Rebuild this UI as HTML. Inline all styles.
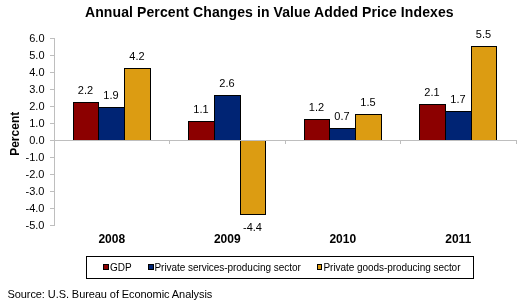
<!DOCTYPE html>
<html><head><meta charset="utf-8"><style>
html,body{margin:0;padding:0;background:#fff;width:529px;height:305px;overflow:hidden}
svg{display:block;will-change:transform}
text{font-family:"Liberation Sans", sans-serif}
</style></head><body>
<svg width="529" height="305" viewBox="0 0 529 305" font-family='"Liberation Sans", sans-serif' fill="#000"><rect x="0" y="0" width="529" height="305" fill="#fff"/>
<text x="85" y="17" font-weight="bold" font-size="14" letter-spacing="0.1">Annual Percent Changes in Value Added Price Indexes</text>
<rect x="73" y="102" width="26" height="38" fill="#000"/>
<rect x="74" y="103" width="24" height="37" fill="#8C0000"/>
<rect x="98" y="107" width="27" height="33" fill="#000"/>
<rect x="99" y="108" width="25" height="32" fill="#002474"/>
<rect x="124" y="68" width="27" height="72" fill="#000"/>
<rect x="125" y="69" width="25" height="71" fill="#DC9C12"/>
<rect x="188" y="121" width="27" height="19" fill="#000"/>
<rect x="189" y="122" width="25" height="18" fill="#8C0000"/>
<rect x="214" y="95" width="27" height="45" fill="#000"/>
<rect x="215" y="96" width="25" height="44" fill="#002474"/>
<rect x="240" y="140" width="26" height="75" fill="#000"/>
<rect x="241" y="140" width="24" height="74" fill="#DC9C12"/>
<rect x="304" y="119" width="26" height="21" fill="#000"/>
<rect x="305" y="120" width="24" height="20" fill="#8C0000"/>
<rect x="329" y="128" width="27" height="12" fill="#000"/>
<rect x="330" y="129" width="25" height="11" fill="#002474"/>
<rect x="355" y="114" width="27" height="26" fill="#000"/>
<rect x="356" y="115" width="25" height="25" fill="#DC9C12"/>
<rect x="419" y="104" width="27" height="36" fill="#000"/>
<rect x="420" y="105" width="25" height="35" fill="#8C0000"/>
<rect x="445" y="111" width="27" height="29" fill="#000"/>
<rect x="446" y="112" width="25" height="28" fill="#002474"/>
<rect x="471" y="46" width="26" height="94" fill="#000"/>
<rect x="472" y="47" width="24" height="93" fill="#DC9C12"/>
<text x="85.50" y="94.10" text-anchor="middle" font-size="11">2.2</text>
<text x="111.00" y="99.20" text-anchor="middle" font-size="11">1.9</text>
<text x="137.00" y="60.10" text-anchor="middle" font-size="11">4.2</text>
<text x="201.00" y="112.80" text-anchor="middle" font-size="11">1.1</text>
<text x="227.00" y="87.30" text-anchor="middle" font-size="11">2.6</text>
<text x="252.50" y="230.80" text-anchor="middle" font-size="11">-4.4</text>
<text x="316.50" y="111.10" text-anchor="middle" font-size="11">1.2</text>
<text x="342.00" y="119.60" text-anchor="middle" font-size="11">0.7</text>
<text x="368.00" y="106.00" text-anchor="middle" font-size="11">1.5</text>
<text x="432.00" y="95.80" text-anchor="middle" font-size="11">2.1</text>
<text x="458.00" y="102.60" text-anchor="middle" font-size="11">1.7</text>
<text x="483.50" y="38.00" text-anchor="middle" font-size="11">5.5</text>
<rect x="54" y="38" width="1" height="188" fill="#BEBEBE"/>
<rect x="50" y="38" width="4" height="1" fill="#BEBEBE"/>
<text x="44.5" y="41.5" text-anchor="end" font-size="11">6.0</text>
<rect x="50" y="55" width="4" height="1" fill="#BEBEBE"/>
<text x="44.5" y="58.5" text-anchor="end" font-size="11">5.0</text>
<rect x="50" y="72" width="4" height="1" fill="#BEBEBE"/>
<text x="44.5" y="75.5" text-anchor="end" font-size="11">4.0</text>
<rect x="50" y="89" width="4" height="1" fill="#BEBEBE"/>
<text x="44.5" y="92.5" text-anchor="end" font-size="11">3.0</text>
<rect x="50" y="106" width="4" height="1" fill="#BEBEBE"/>
<text x="44.5" y="109.5" text-anchor="end" font-size="11">2.0</text>
<rect x="50" y="123" width="4" height="1" fill="#BEBEBE"/>
<text x="44.5" y="126.5" text-anchor="end" font-size="11">1.0</text>
<rect x="50" y="140" width="4" height="1" fill="#BEBEBE"/>
<text x="44.5" y="143.5" text-anchor="end" font-size="11">0.0</text>
<rect x="50" y="157" width="4" height="1" fill="#BEBEBE"/>
<text x="44.5" y="160.5" text-anchor="end" font-size="11">-1.0</text>
<rect x="50" y="174" width="4" height="1" fill="#BEBEBE"/>
<text x="44.5" y="177.5" text-anchor="end" font-size="11">-2.0</text>
<rect x="50" y="191" width="4" height="1" fill="#BEBEBE"/>
<text x="44.5" y="194.5" text-anchor="end" font-size="11">-3.0</text>
<rect x="50" y="208" width="4" height="1" fill="#BEBEBE"/>
<text x="44.5" y="211.5" text-anchor="end" font-size="11">-4.0</text>
<rect x="50" y="225" width="4" height="1" fill="#BEBEBE"/>
<text x="44.5" y="228.5" text-anchor="end" font-size="11">-5.0</text>
<rect x="54" y="140" width="463" height="1" fill="#BEBEBE"/>
<rect x="54" y="141" width="1" height="3" fill="#BEBEBE"/>
<rect x="169" y="141" width="1" height="3" fill="#BEBEBE"/>
<rect x="285" y="141" width="1" height="3" fill="#BEBEBE"/>
<rect x="400" y="141" width="1" height="3" fill="#BEBEBE"/>
<rect x="516" y="141" width="1" height="3" fill="#BEBEBE"/>
<text x="111.75" y="243" text-anchor="middle" font-weight="bold" font-size="12">2008</text>
<text x="227.25" y="243" text-anchor="middle" font-weight="bold" font-size="12">2009</text>
<text x="342.75" y="243" text-anchor="middle" font-weight="bold" font-size="12">2010</text>
<text x="458.25" y="243" text-anchor="middle" font-weight="bold" font-size="12">2011</text>
<text transform="translate(18.5,133.8) rotate(-90)" x="0" y="0" text-anchor="middle" font-weight="bold" font-size="12">Percent</text>
<rect x="86.5" y="256.5" width="387" height="22" fill="none" stroke="#000" stroke-width="1"/>
<rect x="103" y="264" width="6" height="6" fill="#000"/>
<rect x="104" y="265" width="4" height="4" fill="#8C0000"/>
<text x="110" y="270.5" font-size="10" letter-spacing="-0.05">GDP</text>
<rect x="148" y="264" width="6" height="6" fill="#000"/>
<rect x="149" y="265" width="4" height="4" fill="#002474"/>
<text x="154.5" y="270.5" font-size="10" letter-spacing="-0.05">Private services-producing sector</text>
<rect x="317" y="264" width="5" height="6" fill="#000"/>
<rect x="318" y="265" width="3" height="4" fill="#DC9C12"/>
<text x="323.5" y="270.5" font-size="10" letter-spacing="-0.05">Private goods-producing sector</text>
<text x="7.5" y="298" font-size="11" letter-spacing="-0.08">Source: U.S. Bureau of Economic Analysis</text></svg>
</body></html>
